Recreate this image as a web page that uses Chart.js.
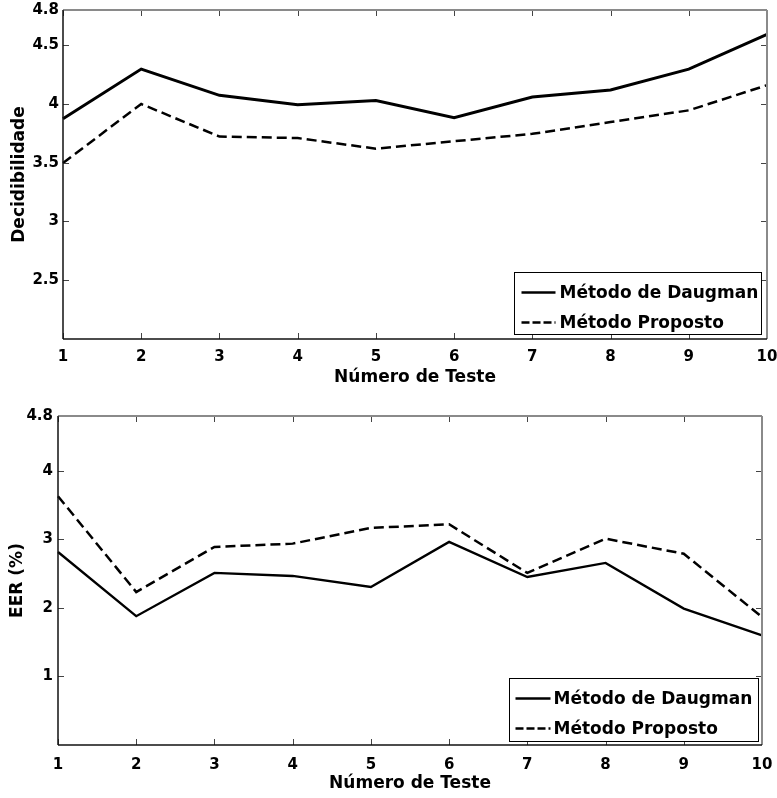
<!DOCTYPE html>
<html>
<head>
<meta charset="utf-8">
<script src="https://cdn.jsdelivr.net/npm/chart.js@4"></script>
<style>
  html, body { margin: 0; padding: 0; background: #fff; }
  #wrap { position: relative; width: 777px; height: 798px; overflow: hidden; }
  canvas { position: absolute; left: 0; }
  #c1 { top: 0; }
  #c2 { top: 400px; }
</style>
</head>
<body>
<div id="wrap">
  <canvas id="c1" width="777" height="400"></canvas>
  <canvas id="c2" width="777" height="398"></canvas>
</div>
<script>
// ---- data ----
const categories = ['1', '2', '3', '4', '5', '6', '7', '8', '9', '10'];
const seriesNames = ['Método de Daugman', 'Método Proposto'];
const decDaugman = [3.875, 4.297, 4.074, 3.994, 4.029, 3.883, 4.060, 4.120, 4.297, 4.593];
const decProposto = [3.498, 4.000, 3.723, 3.710, 3.620, 3.683, 3.746, 3.846, 3.946, 4.160];
const eerDaugman = [2.816, 1.880, 2.510, 2.466, 2.305, 2.963, 2.451, 2.656, 1.990, 1.600];
const eerProposto = [3.630, 2.232, 2.890, 2.938, 3.167, 3.220, 2.510, 3.010, 2.790, 1.867];
const decTicks = [2.5, 3, 3.5, 4, 4.5, 4.8];
const eerTicks = [1, 2, 3, 4, 4.8];
const xTitle = 'Número de Teste';
const decTitle = 'Decidibilidade';
const eerTitle = 'EER (%)';

Chart.defaults.font.family = "'DejaVu Sans', 'Liberation Sans', sans-serif";
Chart.defaults.font.weight = 'bold';
Chart.defaults.color = '#000';

// MATLAB-like frame, inward ticks and boxed legend
const matlabFrame = {
  id: 'matlabFrame',
  afterDatasetsDraw(chart, args, opts) {
    const { ctx, chartArea: a, scales: { x, y } } = chart;
    ctx.save();
    const seg = (x1, y1, x2, y2) => { ctx.beginPath(); ctx.moveTo(x1, y1); ctx.lineTo(x2, y2); ctx.stroke(); };
    const L = 6;
    ctx.setLineDash([]);
    ctx.strokeStyle = '#444';
    ctx.lineWidth = 1;
    x.ticks.forEach((t, i) => {
      const px = Math.round(x.getPixelForTick(i)) + 0.5;
      seg(px, a.bottom, px, a.bottom - L);
      seg(px, a.top, px, a.top + L);
    });
    y.ticks.forEach((t, i) => {
      const py = Math.round(y.getPixelForTick(i)) + 0.5;
      seg(a.left, py, a.left + L, py);
      seg(a.right, py, a.right - L, py);
    });
    // top/right in grey, left/bottom dark
    ctx.strokeStyle = '#8a8a8a';
    ctx.lineWidth = 2;
    seg(a.left, a.top, a.right, a.top);
    seg(a.right, a.top, a.right, a.bottom);
    ctx.strokeStyle = '#111';
    ctx.lineWidth = 1.5;
    seg(a.left, a.top, a.left, a.bottom);
    seg(a.left, a.bottom, a.right, a.bottom);

    // legend
    const lg = opts.legend;
    const bx = Math.round(a.right - lg.right - lg.width) + 0.5;
    const by = Math.round(a.bottom - lg.bottom - lg.height) + 0.5;
    ctx.fillStyle = '#fff';
    ctx.fillRect(bx, by, lg.width, lg.height);
    ctx.strokeStyle = '#000';
    ctx.lineWidth = 1;
    ctx.strokeRect(bx, by, lg.width, lg.height);
    ctx.font = "bold 17px 'DejaVu Sans', sans-serif";
    ctx.textBaseline = 'middle';
    ctx.textAlign = 'left';
    chart.data.datasets.forEach((ds, i) => {
      const ry = by + lg.firstRow + i * lg.rowGap;
      ctx.strokeStyle = ds.borderColor;
      ctx.lineWidth = 2.5;
      ctx.setLineDash(ds.borderDash && ds.borderDash.length ? [8, 3] : []);
      seg(bx + lg.lineStart, ry, bx + lg.lineEnd, ry);
      ctx.setLineDash([]);
      ctx.fillStyle = '#000';
      ctx.fillText(ds.label, bx + lg.textStart, ry + 1);
    });
    ctx.restore();
  }
};

function makeChart(id, s1, s2, yMin, yMax, yTicks, yTitle, cfg) {
  return new Chart(document.getElementById(id), {
    type: 'line',
    data: {
      labels: categories,
      datasets: [
        { label: seriesNames[0], data: s1, borderColor: '#000', borderWidth: cfg.solidWidth,
          pointRadius: 0, tension: 0, fill: false },
        { label: seriesNames[1], data: s2, borderColor: '#000', borderWidth: 2.5, borderDash: [10, 5],
          pointRadius: 0, tension: 0, fill: false }
      ]
    },
    options: {
      responsive: false,
      animation: false,
      devicePixelRatio: 1,
      layout: { padding: cfg.padding },
      plugins: {
        legend: { display: false },
        tooltip: { enabled: false },
        matlabFrame: { legend: cfg.legend }
      },
      scales: {
        x: {
          type: 'category',
          offset: false,
          grid: { display: false, drawTicks: false },
          border: { display: false },
          ticks: { autoSkip: false, maxRotation: 0, padding: cfg.xTickPad,
                   font: { size: 15, weight: 'bold' }, color: '#000' },
          title: { display: true, text: xTitle, font: { size: 17, weight: 'bold' }, color: '#000',
                   padding: { top: 0, bottom: cfg.xTitlePad } },
          afterFit: (s) => { s.height = cfg.xHeight; s.paddingLeft = 0; s.paddingRight = 0; }
        },
        y: {
          type: 'linear',
          min: yMin,
          max: yMax,
          grid: { display: false, drawTicks: false },
          border: { display: false },
          afterBuildTicks: (s) => { s.ticks = yTicks.map(v => ({ value: v })); },
          ticks: { padding: cfg.yTickPad, font: { size: 15, weight: 'bold' }, color: '#000',
                   callback: (v) => String(v) },
          title: { display: true, text: yTitle, font: { size: 17, weight: 'bold' }, color: '#000',
                   padding: { top: cfg.yTitlePad, bottom: 0 } },
          afterFit: (s) => { s.width = cfg.yWidth; s.paddingTop = 0; s.paddingBottom = 0; }
        }
      }
    },
    plugins: [matlabFrame]
  });
}

makeChart('c1', decDaugman, decProposto, 2.0, 4.8, decTicks, decTitle, {
  solidWidth: 3,
  padding: { top: 10, right: 10, bottom: 0, left: 0 },
  xHeight: 61, xTickPad: 9, xTitlePad: 12,
  yWidth: 63, yTickPad: 4, yTitlePad: 9,
  legend: { right: 6, bottom: 5, width: 247, height: 62, firstRow: 20, rowGap: 30,
            lineStart: 7, lineEnd: 41, textStart: 45 }
});

makeChart('c2', eerDaugman, eerProposto, 0, 4.8, eerTicks, eerTitle, {
  solidWidth: 2.3,
  padding: { top: 16, right: 15, bottom: 0, left: 0 },
  xHeight: 53, xTickPad: 11, xTitlePad: 4.5,
  yWidth: 58, yTickPad: 5, yTitlePad: 7,
  legend: { right: 4, bottom: 4, width: 249, height: 63, firstRow: 20, rowGap: 30,
            lineStart: 6, lineEnd: 41, textStart: 44 }
});
</script>
</body>
</html>
